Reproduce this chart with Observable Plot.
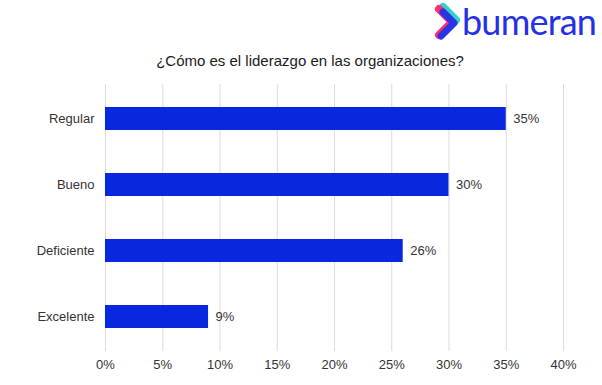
<!DOCTYPE html>
<html><head><meta charset="utf-8">
<script src="https://cdn.jsdelivr.net/npm/d3@7"></script>
<script src="https://cdn.jsdelivr.net/npm/@observablehq/plot@0.6"></script>
<style>
body{margin:0;background:#fff;}
#wrap{position:relative;width:602px;height:385px;overflow:hidden;font-family:"Liberation Sans",Arial,sans-serif;}
#title{position:absolute;left:0;width:620px;top:52px;text-align:center;font-size:15px;color:#1a1a1a;}
#logo{position:absolute;left:428px;top:0px;}
#chart{position:absolute;left:0;top:0;}
</style></head>
<body><div id="wrap">
<div id="chart"></div>
<div id="title">¿Cómo es el liderazgo en las organizaciones?</div>
<svg id="logo" width="174" height="44" viewBox="0 0 174 44">
  <polyline points="11,9 24,22 11,35" fill="none" stroke="#2fd3c8" stroke-width="8" stroke-linecap="round" stroke-linejoin="round" transform="translate(4,-2)"/>
  <polyline points="11,9 24,22 11,35" fill="none" stroke="#ff2f6e" stroke-width="8" stroke-linecap="round" stroke-linejoin="round"/>
  <polyline points="13,11 24,22 11,35" fill="none" stroke="#2a33e6" stroke-width="7" stroke-linecap="round" stroke-linejoin="round" transform="translate(2,1)"/>
  <text x="34" y="35" font-family="Lato, 'Noto Sans', sans-serif" font-size="36" fill="#2430e6" letter-spacing="-0.8">bumeran</text>
</svg>
</div>
<script>
const categories = ["Regular", "Bueno", "Deficiente", "Excelente"];
const values = [35, 30, 26, 9];
const xTicks = [0, 5, 10, 15, 20, 25, 30, 35, 40];

const data = categories.map((c, i) => ({cat: c, v: values[i]}));

const plot = Plot.plot({
  width: 602,
  height: 385,
  marginTop: 84,
  marginBottom: 34,
  marginLeft: 105,
  marginRight: 39,
  style: {fontFamily: "'Liberation Sans', Arial, sans-serif", fontSize: "13px", color: "#333", background: "transparent"},
  x: {domain: [0, 40], ticks: xTicks, tickFormat: d => d + "%", tickSize: 0, tickPadding: 8, label: null},
  y: {domain: categories, paddingInner: 0.655, paddingOuter: 0.3275, tickSize: 0, tickPadding: 11, label: null},
  marks: [
    Plot.ruleX(xTicks, {stroke: "#dcdcdc", strokeWidth: 1, strokeOpacity: 1}),
    Plot.barX(data, {x: "v", y: "cat", fill: "#0827df"}),
    Plot.text(data, {x: "v", y: "cat", text: d => d.v + "%", textAnchor: "start", dx: 7, fill: "#333", fontSize: 13})
  ]
});
document.getElementById("chart").appendChild(plot);
</script>
</body></html>
